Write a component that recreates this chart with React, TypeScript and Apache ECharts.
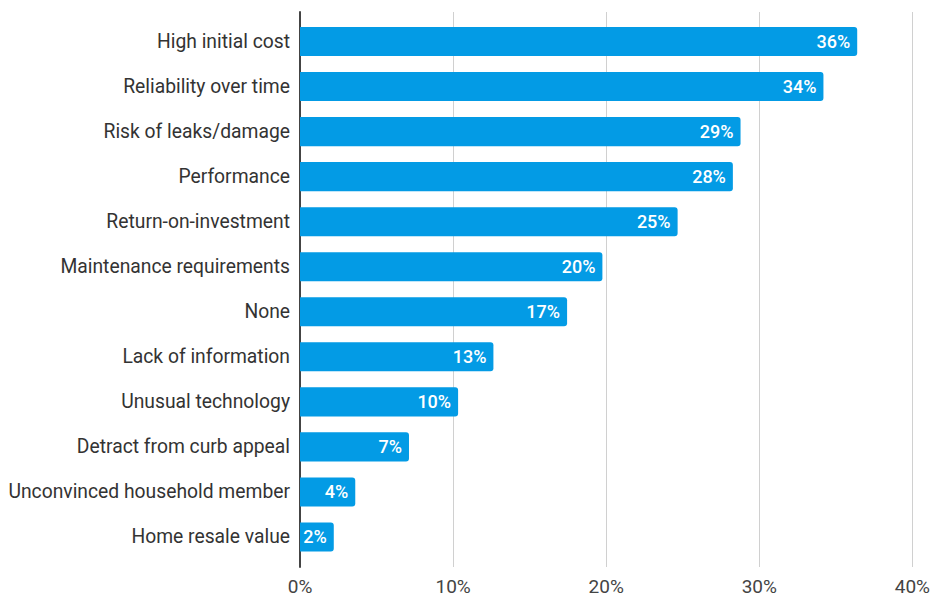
import React, { useEffect, useRef } from "react";
import * as echarts from "echarts";

const categories = [
  "High initial cost",
  "Reliability over time",
  "Risk of leaks/damage",
  "Performance",
  "Return-on-investment",
  "Maintenance requirements",
  "None",
  "Lack of information",
  "Unusual technology",
  "Detract from curb appeal",
  "Unconvinced household member",
  "Home resale value",
];

const values = [36.3, 34.1, 28.7, 28.2, 24.6, 19.7, 17.4, 12.6, 10.3, 7.1, 3.6, 2.2];

const xTicks = { min: 0, max: 40, interval: 10 };

export default function App() {
  const ref = useRef<HTMLDivElement>(null);
  useEffect(() => {
    if (!ref.current) return;
    const chart = echarts.init(ref.current, null, { renderer: "svg" });
    const font = "Roboto";
    chart.setOption({
      animation: false,
      textStyle: { fontFamily: font },
      grid: [
        { left: 300, right: 19, top: 19, bottom: 36.5, containLabel: false },
        { left: 300, right: 19, top: 12, bottom: 29, containLabel: false },
      ],
      xAxis: [
        {
          gridIndex: 0,
          type: "value",
          min: xTicks.min,
          max: xTicks.max,
          interval: xTicks.interval,
          show: false,
        },
        {
          gridIndex: 1,
          type: "value",
          min: xTicks.min,
          max: xTicks.max,
          interval: xTicks.interval,
          axisLine: { show: false },
          axisTick: { show: false },
          splitLine: { show: true, lineStyle: { color: "#d0d0d0", width: 1 } },
          axisLabel: {
            formatter: "{value}%",
            color: "#444",
            fontSize: 19,
            lineHeight: 18,
            fontFamily: font,
            margin: 10,
          },
        },
      ],
      yAxis: [
        {
          gridIndex: 0,
          type: "category",
          data: categories,
          inverse: true,
          axisLine: { show: false },
          axisTick: { show: false },
          axisLabel: {
            color: "#333",
            fontSize: 19.3,
            fontFamily: font,
            margin: 10,
          },
        },
        {
          gridIndex: 1,
          type: "value",
          min: 0,
          max: 1,
          axisLine: { show: true, onZero: false, lineStyle: { color: "#444", width: 2 } },
          axisTick: { show: false },
          axisLabel: { show: false },
          splitLine: { show: false },
        },
      ],
      series: [
        {
          type: "bar",
          xAxisIndex: 0,
          yAxisIndex: 0,
          data: values,
          barCategoryGap: "35.5%",
          itemStyle: { color: "#039be5", borderRadius: [0, 3, 3, 0] },
          label: {
            show: true,
            position: "insideRight",
            offset: [-2, 0],
            color: "#fff",
            fontSize: 18,
            fontWeight: 500,
            fontFamily: font,
            formatter: (p: any) => Math.round(p.value) + "%",
          },
        },
      ],
    });
    return () => chart.dispose();
  }, []);
  return <div ref={ref} style={{ width: 933, height: 596, position: "absolute", left: 0, top: 0 }} />;
}
